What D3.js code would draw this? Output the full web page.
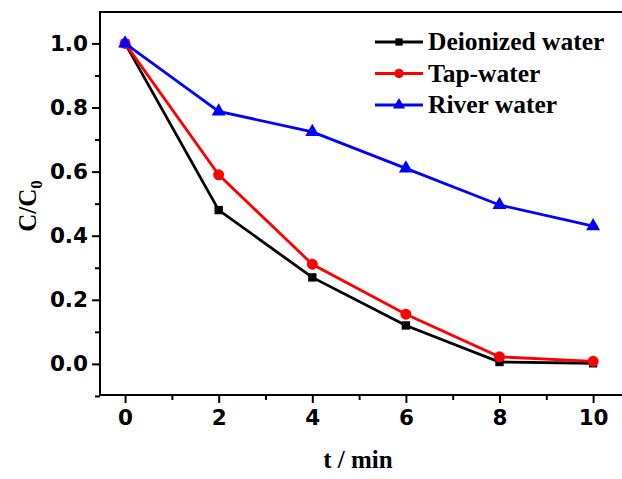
<!DOCTYPE html>
<html>
<head>
<meta charset="utf-8">
<script src="https://cdn.jsdelivr.net/npm/d3@7"></script>
<style>
  body { margin: 0; background: #fff; }
  .tick text { font-family: "DejaVu Sans", Arial, sans-serif; font-weight: bold; font-size: 21.5px; }
</style>
</head>
<body>
<div id="chart"></div>
<script>
// data
const times = [0, 2, 4, 6, 8, 10];
const deionized = [1.0, 0.48, 0.27, 0.12, 0.006, 0.002];
const tapWater = [1.0, 0.59, 0.311, 0.155, 0.022, 0.008];
const riverWater = [1.0, 0.788, 0.724, 0.61, 0.496, 0.43];
const seriesNames = ["Deionized water", "Tap-water", "River water"];
const xTicks = [0, 2, 4, 6, 8, 10];
const yTicks = [0.0, 0.2, 0.4, 0.6, 0.8, 1.0];

const width = 622, height = 479;
const margin = {top: 12, right: -2, bottom: 84, left: 100};

const svg = d3.select("#chart").append("svg")
    .attr("width", width)
    .attr("height", height);

const x = d3.scaleLinear()
    .domain([-0.536, 10.66])
    .range([margin.left, width - margin.right]);

const y = d3.scaleLinear()
    .domain([-0.097, 1.098])
    .range([height - margin.bottom, margin.top]);

// frame
svg.append("rect")
    .attr("x", x.range()[0])
    .attr("y", y.range()[1])
    .attr("width", x.range()[1] - x.range()[0])
    .attr("height", y.range()[0] - y.range()[1])
    .attr("fill", "none")
    .attr("stroke", "black")
    .attr("stroke-width", 2);

// minor ticks
const xMinor = d3.range(0, 11, 1).filter(d => d % 2 !== 0);
const yMinor = [-0.1, 0.1, 0.3, 0.5, 0.7, 0.9];

svg.append("g")
    .attr("transform", "translate(0," + y.range()[0] + ")")
    .call(d3.axisBottom(x).tickValues(xMinor).tickSize(5).tickFormat(""))
    .call(g => g.select(".domain").remove())
    .selectAll("line").attr("stroke-width", 2);

svg.append("g")
    .attr("transform", "translate(" + x.range()[0] + ",0)")
    .call(d3.axisLeft(y).tickValues(yMinor).tickSize(5).tickFormat(""))
    .call(g => g.select(".domain").remove())
    .selectAll("line").attr("stroke-width", 2);

// major ticks
const xAxis = svg.append("g")
    .attr("transform", "translate(0," + y.range()[0] + ")")
    .call(d3.axisBottom(x).tickValues(xTicks).tickSize(8).tickPadding(7).tickFormat(d3.format("d")))
    .call(g => g.select(".domain").remove());
xAxis.selectAll("line").attr("stroke-width", 2);

const yAxis = svg.append("g")
    .attr("transform", "translate(" + x.range()[0] + ",0)")
    .call(d3.axisLeft(y).tickValues(yTicks).tickSize(8).tickPadding(4).tickFormat(d3.format(".1f")))
    .call(g => g.select(".domain").remove());
yAxis.selectAll("line").attr("stroke-width", 2);

// axis titles
svg.append("text")
    .attr("x", 358)
    .attr("y", 468)
    .attr("text-anchor", "middle")
    .style("font-family", "Liberation Serif, Times New Roman, serif")
    .style("font-weight", "bold")
    .style("font-size", "25px")
    .text("t / min");

const yTitle = svg.append("text")
    .attr("transform", "translate(36,206) rotate(-90)")
    .attr("text-anchor", "middle")
    .style("font-family", "Liberation Serif, Times New Roman, serif")
    .style("font-weight", "bold")
    .style("font-size", "25px");
yTitle.append("tspan").text("C/C");
yTitle.append("tspan").attr("dy", 6).style("font-size", "17px").text("0");

// series
const series = [
    {name: seriesNames[0], values: deionized, color: "black", symbol: d3.symbolSquare, size: 70},
    {name: seriesNames[1], values: tapWater, color: "red", symbol: d3.symbolCircle, size: 95},
    {name: seriesNames[2], values: riverWater, color: "blue", symbol: d3.symbolTriangle, size: 85}
];

const line = d3.line()
    .x((d, i) => x(times[i]))
    .y(d => y(d));

series.forEach(s => {
    svg.append("path")
        .datum(s.values)
        .attr("d", line)
        .attr("fill", "none")
        .attr("stroke", s.color)
        .attr("stroke-width", 2.8);

    svg.selectAll(null)
        .data(s.values)
        .enter().append("path")
        .attr("d", d3.symbol().type(s.symbol).size(s.size))
        .attr("transform", (d, i) => "translate(" + x(times[i]) + "," + y(d) + ")")
        .attr("fill", s.color);
});

// legend
const legend = svg.append("g").attr("transform", "translate(375,42)");
series.forEach((s, i) => {
    const g = legend.append("g").attr("transform", "translate(0," + (i * 31.5) + ")");
    g.append("line")
        .attr("x1", 0).attr("x2", 48)
        .attr("stroke", s.color)
        .attr("stroke-width", 2.8);
    g.append("path")
        .attr("d", d3.symbol().type(s.symbol).size(s.size * 0.75))
        .attr("transform", "translate(24,0)")
        .attr("fill", s.color);
    g.append("text")
        .attr("x", 53)
        .attr("y", 8)
        .style("font-family", "Liberation Serif, Times New Roman, serif")
        .style("font-weight", "bold")
        .style("font-size", "25.5px")
        .text(s.name);
});
</script>
</body>
</html>
